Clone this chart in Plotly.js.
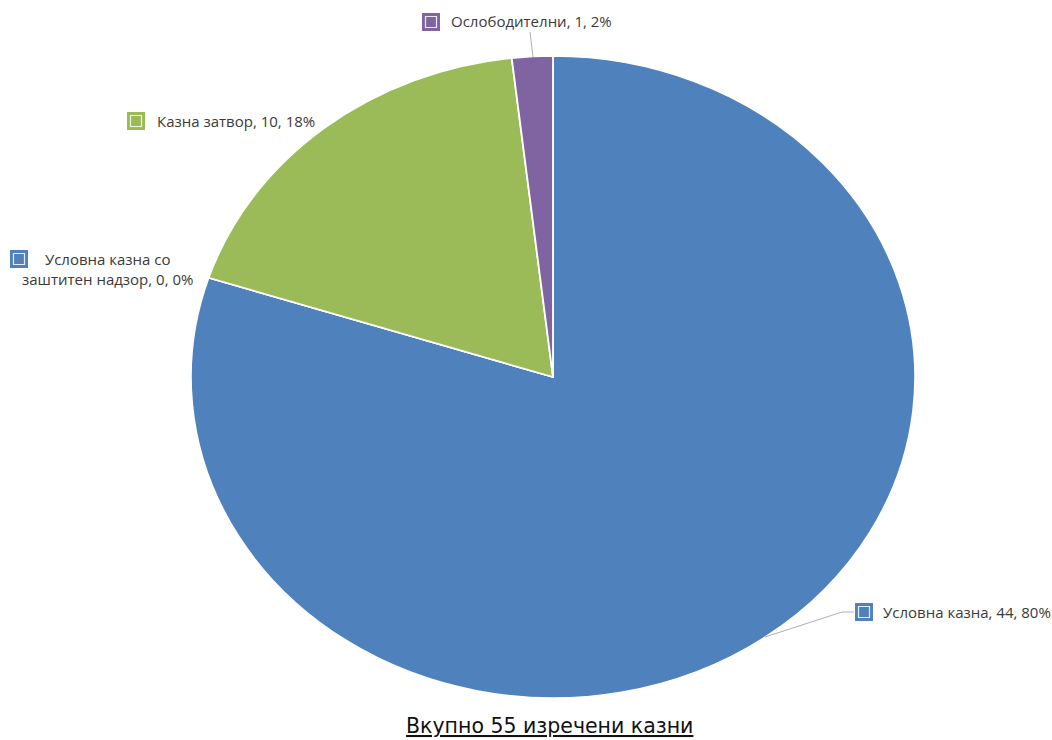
<!DOCTYPE html>
<html>
<head>
<meta charset="utf-8">
<script src="https://cdn.plot.ly/plotly-3.0.1.min.js"></script>
<style>
  html, body { margin: 0; padding: 0; background: #ffffff; }
  #wrap { position: relative; width: 1052px; height: 740px; overflow: hidden; }
  #pie { position: absolute; left: 232px; top: 56px; width: 642px; height: 642px;
         transform: scaleX(1.128); transform-origin: 50% 50%; }
  #over { position: absolute; left: 0; top: 0; width: 1052px; height: 740px; }
</style>
</head>
<body>
<div id="wrap">
  <div id="pie"></div>
  <div id="over"></div>
</div>
<script>
// ---- data ----
const categories = ["Условна казна", "Условна казна со заштитен надзор", "Казна затвор", "Ослободителни"];
const counts = [44, 0, 10, 1];
const sliceColors = ["#4F81BD", "#4F81BD", "#9BBB59", "#8064A2"];
const totalTitle = "Вкупно 55 изречени казни";

const total = counts.reduce((a, b) => a + b, 0);
const pct = counts.map(v => Math.round(100 * v / total));

// ---- pie (stretched to an ellipse via CSS) ----
Plotly.newPlot("pie", [{
  type: "pie",
  labels: categories,
  values: counts,
  sort: false,
  direction: "clockwise",
  rotation: 0,
  textinfo: "none",
  hoverinfo: "none",
  marker: { colors: sliceColors, line: { color: "#ffffff", width: 1.6 } },
  showlegend: false
}], {
  width: 642, height: 642,
  margin: { l: 0, r: 0, t: 0, b: 0 },
  paper_bgcolor: "rgba(0,0,0,0)",
  showlegend: false
}, { staticPlot: true, displayModeBar: false });

// ---- labels overlay ----
const W = 1052, H = 740;
const X = p => p / W;
const Y = p => 1 - p / H;
const labelFont = { family: "Open Sans, Noto Sans, sans-serif", size: 15, color: "#3a3a3a" };

function txt(i) { return categories[i] + ", " + counts[i] + ", " + pct[i] + "%"; }

// label positions (pixels)
const labelPos = [
  { tx: 881, ty: 612, sx: 855, sy: 603, xa: "left" },
  { tx: 107, ty: 269, sx: 10, sy: 250, xa: "center" },
  { tx: 155, ty: 121, sx: 127, sy: 112, xa: "left" },
  { tx: 449, ty: 21, sx: 422, sy: 13, xa: "left" }
];

const annotations = [];
const shapes = [];
labelPos.forEach((p, i) => {
  let t = txt(i);
  if (i === 1) t = "Условна казна со<br>заштитен надзор, " + counts[i] + ", " + pct[i] + "%";
  annotations.push({
    xref: "paper", yref: "paper", x: X(p.tx), y: Y(p.ty),
    xanchor: p.xa, yanchor: "middle", showarrow: false, align: "center",
    text: t, font: labelFont
  });
  const s = 18;
  shapes.push({ type: "rect", xref: "paper", yref: "paper",
    x0: X(p.sx), x1: X(p.sx + s), y0: Y(p.sy + s), y1: Y(p.sy),
    fillcolor: sliceColors[i], line: { width: 0 } });
  shapes.push({ type: "rect", xref: "paper", yref: "paper",
    x0: X(p.sx + 3.5), x1: X(p.sx + s - 3.5), y0: Y(p.sy + s - 3.5), y1: Y(p.sy + 3.5),
    fillcolor: sliceColors[i], line: { width: 1.2, color: "rgba(255,255,255,0.85)" } });
});

// leader lines
shapes.push({ type: "path", xref: "paper", yref: "paper",
  path: `M ${X(765)} ${Y(637)} L ${X(842)} ${Y(612)} L ${X(854)} ${Y(612)}`,
  line: { color: "#b0b0b0", width: 1 } });
shapes.push({ type: "line", xref: "paper", yref: "paper",
  x0: X(530), y0: Y(32), x1: X(533), y1: Y(57),
  line: { color: "#b0b0b0", width: 1 } });

annotations.push({
  xref: "paper", yref: "paper", x: X(549), y: Y(726),
  xanchor: "center", yanchor: "middle", showarrow: false,
  text: "<u>" + totalTitle + "</u>",
  font: { family: "DejaVu Sans, sans-serif", size: 20.5, color: "#111111" }
});

Plotly.newPlot("over", [], {
  width: W, height: H,
  margin: { l: 0, r: 0, t: 0, b: 0 },
  paper_bgcolor: "rgba(0,0,0,0)",
  plot_bgcolor: "rgba(0,0,0,0)",
  xaxis: { visible: false, range: [0, 1] },
  yaxis: { visible: false, range: [0, 1] },
  annotations: annotations,
  shapes: shapes,
  showlegend: false
}, { staticPlot: true, displayModeBar: false });
</script>
</body>
</html>
